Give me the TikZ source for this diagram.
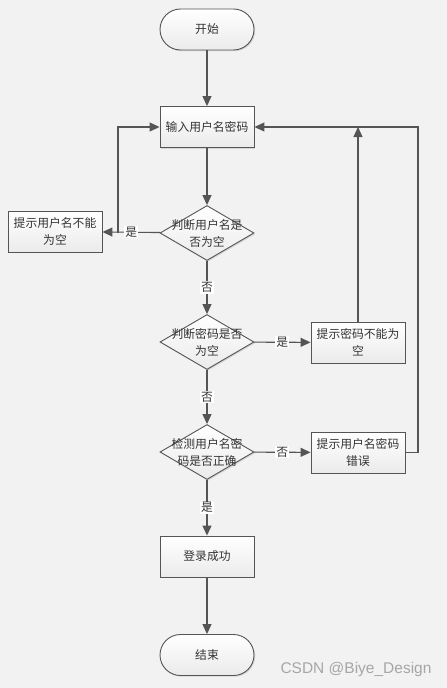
\documentclass[tikz,border=0pt]{standalone}
\usepackage{fontspec}
\newfontfamily\cjk{Noto Sans CJK SC}
\newfontfamily\wmfont{Liberation Sans}
\usetikzlibrary{shapes.geometric,arrows.meta,shadows}
\definecolor{bg}{HTML}{F2F2F2}
\definecolor{ln}{HTML}{555555}
\definecolor{tx}{HTML}{333333}
\tikzset{
  base/.style={draw=ln, line width=0.9pt, top color=white, bottom color=black!8,
    drop shadow={shadow xshift=1.2pt, shadow yshift=-1.2pt, opacity=0.25},
    text=tx, font=\cjk\fontsize{11.8}{17}\selectfont, align=center, inner sep=0pt},
  term/.style={base, minimum width=94pt, minimum height=41pt, rounded corners=20.5pt},
  proc/.style={base, minimum width=94pt, minimum height=41pt},
  dia/.style={base, diamond, minimum width=94pt, minimum height=55pt},
  dtxt/.style={text=tx, font=\cjk\fontsize{11.8}{17}\selectfont, align=center, inner sep=0pt},
  lbl/.style={fill=white, inner sep=1pt, text=tx, font=\cjk\fontsize{11.8}{13}\selectfont},
  arr/.style={draw=ln, line width=1.1pt, -{Triangle[width=9pt,length=10pt]}},
}
\begin{document}
\begin{tikzpicture}[x=1pt,y=-1pt]
\fill[bg] (0,0) rectangle (447,688);
\useasboundingbox (0,0) rectangle (447,688);

\node[term] (start) at (207,29.5) {开始};
\node[proc] (input) at (207,127) {输入用户名密码};
\node[dia] (d1) at (207,233) {};
\node[dtxt] at (d1) {判断用户名是\\否为空};
\node[proc] (e1) at (55,231.5) {提示用户名不能\\为空};
\node[dia] (d2) at (207,342) {};
\node[dtxt] at (d2) {判断密码是否\\为空};
\node[proc] (e2) at (358,342.5) {提示密码不能为\\空};
\node[dia] (d3) at (207,452) {};
\node[dtxt] at (d3) {检测用户名密\\码是否正确};
\node[proc] (e3) at (358,452.5) {提示用户名密码\\错误};
\node[proc] (ok) at (207,556.5) {登录成功};
\node[term] (end) at (207,655) {结束};

\draw[arr] (start) -- (input);
\draw[arr] (input) -- (d1);
\draw[arr] (d1) -- node[lbl]{是} (e1);
\coordinate (c1) at (118,233);
\draw[arr] (c1) |- (input.west);
\draw[arr] (d1) -- node[lbl]{否} (d2);
\draw[arr] (d2) -- node[lbl]{是} (e2);
\draw[arr] (e2.north) -- (e2.north |- input.east);
\draw[arr] (d2) -- node[lbl]{否} (d3);
\draw[arr] (d3) -- node[lbl]{否} (e3);
\coordinate (c2) at (418,452.5);
\draw[arr] (e3.east) -- (c2) |- (input.east);
\draw[arr] (d3) -- node[lbl]{是} (ok);
\draw[arr] (ok) -- (end);

\node[text=black!35, font=\wmfont\fontsize{15.5}{17}\selectfont, inner sep=0pt] (wm) at (356,669) {CSDN @Biye\_Design};
\end{tikzpicture}
\end{document}
